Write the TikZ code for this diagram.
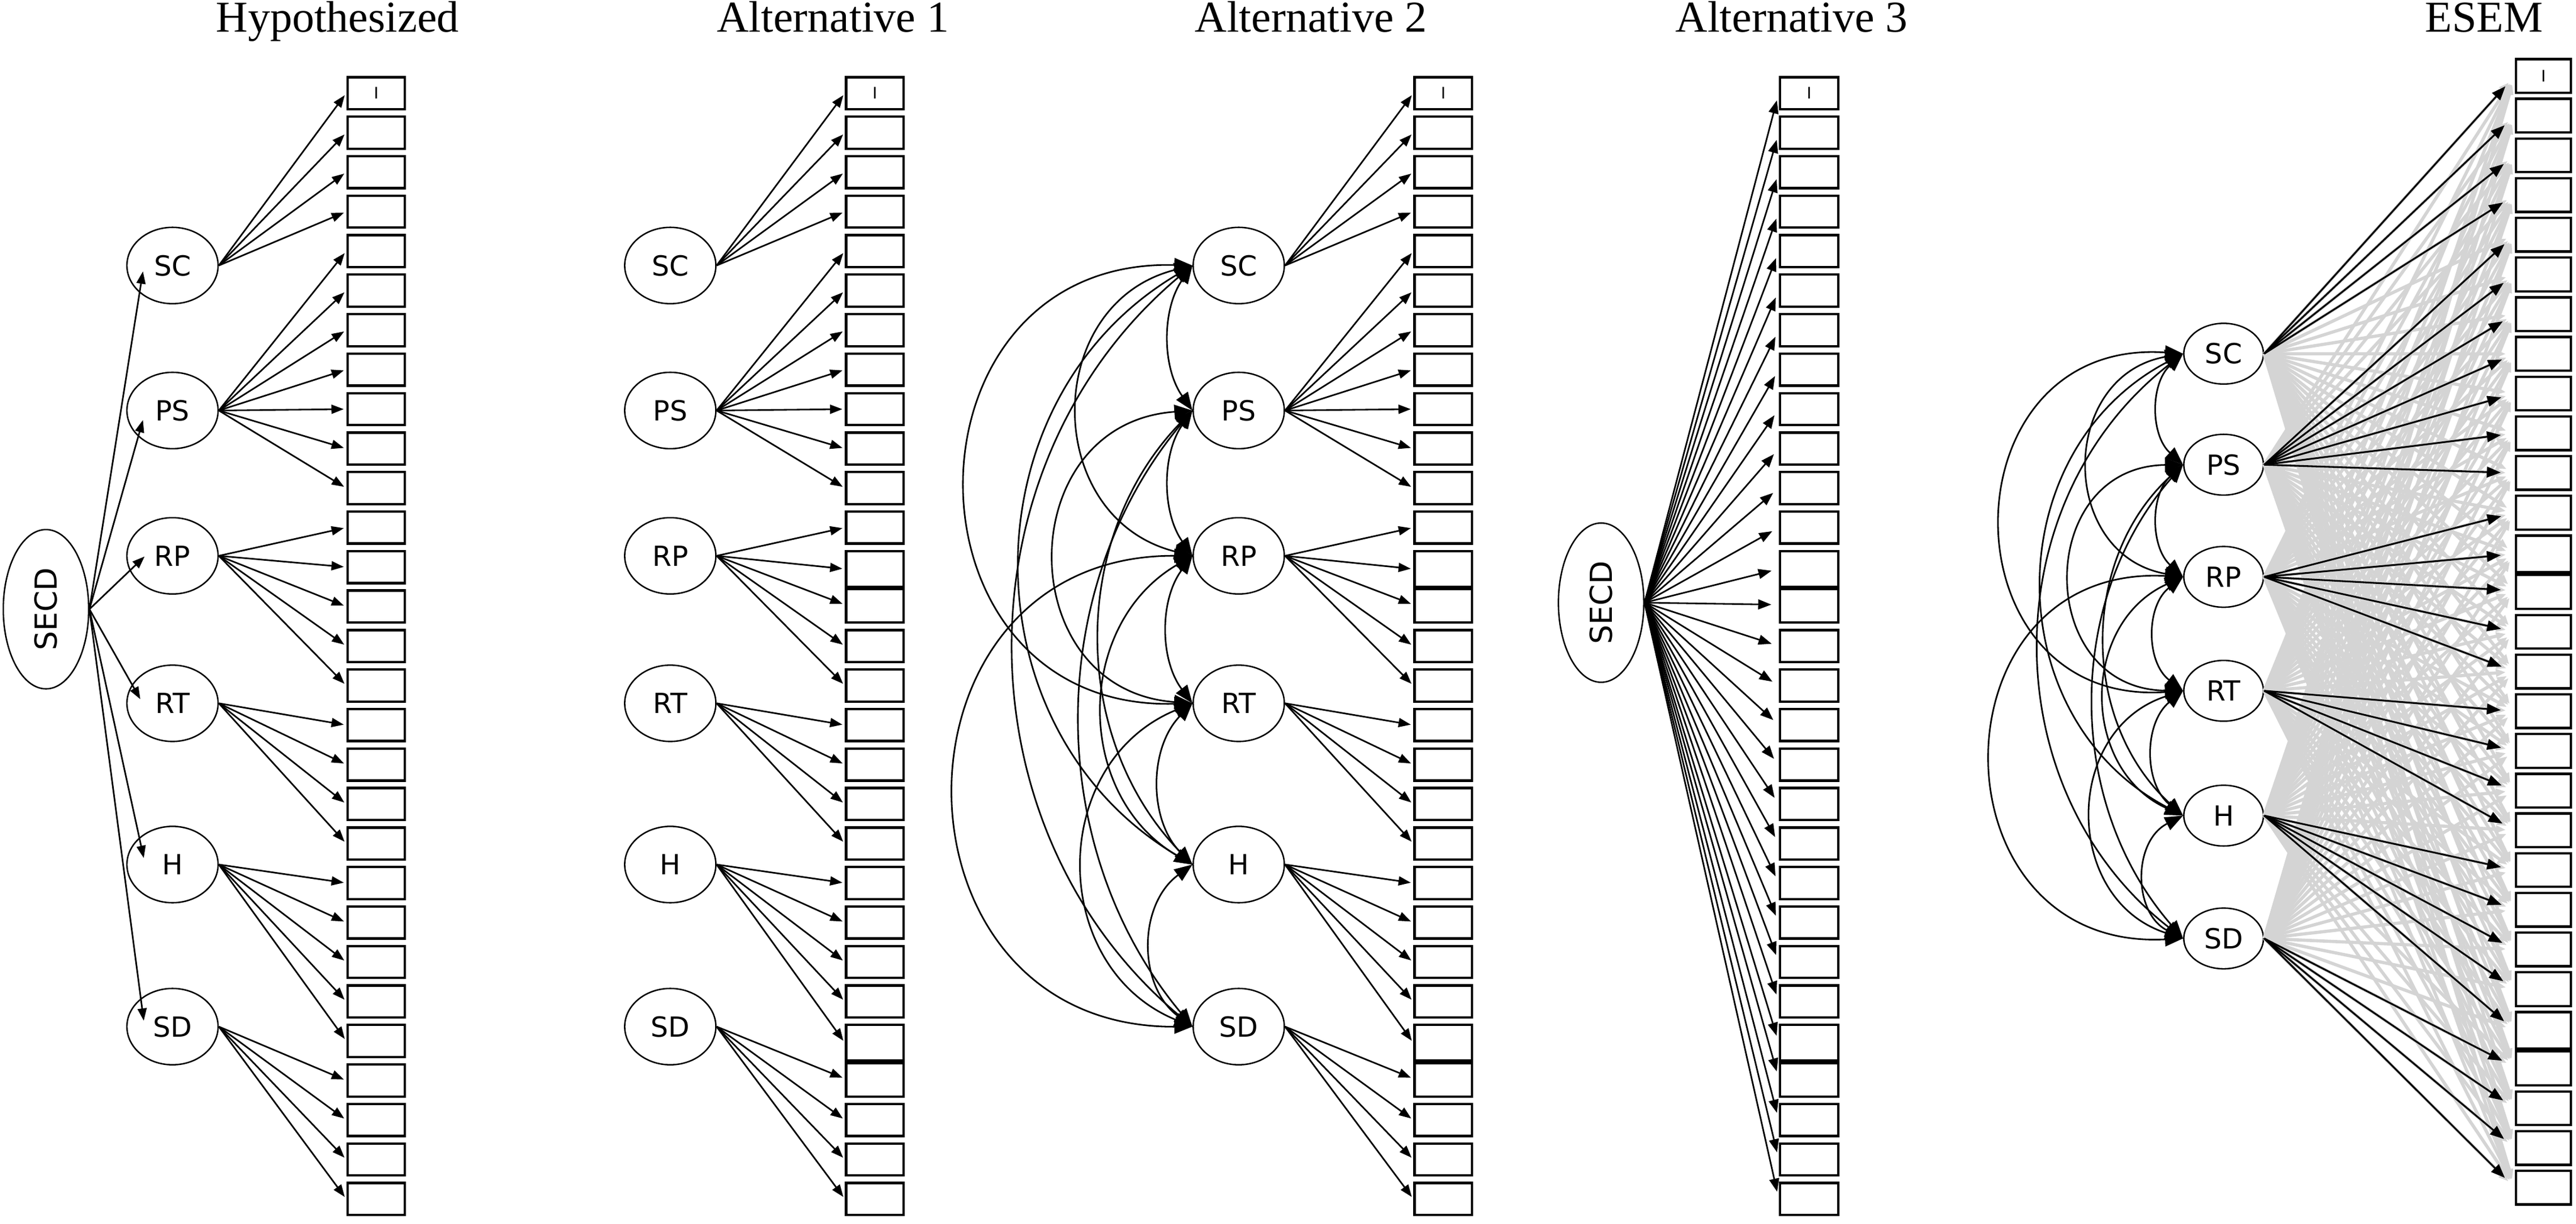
\documentclass[tikz,border=0pt]{standalone}
\usepackage{graphicx}
\usepackage{fontspec}
\setmainfont{Liberation Serif}
\newfontfamily\lblfont{DejaVu Sans}
\usetikzlibrary{shapes.geometric,arrows.meta,calc}

\def\cfy{{161.7,250,338.5,428.3,526.5,625.2}}
\def\efy{{215.4,283,351.3,420.7,496.7,571.5}}

% column of 29 indicator boxes
\newcommand\boxcol[7]{%
 \foreach \i in {1,...,29}{%
   \pgfmathsetmacro\bt{#3+(\i-1)*#4}%
   \pgfmathsetmacro\bb{\bt+#5}%
   \ifnum#6=1
     \ifnum\i=13 \pgfmathsetmacro\bb{\bt+(#4+#5)/2}\fi
     \ifnum\i=25 \pgfmathsetmacro\bb{\bt+(#4+#5)/2}\fi
     \ifnum\i=14 \pgfmathsetmacro\bt{\bt-(#4-#5)/2}\fi
     \ifnum\i=26 \pgfmathsetmacro\bt{\bt-(#4-#5)/2}\fi
   \fi
   \pgfmathsetmacro\bc{(\bt+\bb)/2}%
   \pgfmathsetmacro\bh{(\bb-\bt)*0.2}%
   \node[ind,minimum width=#7mm,minimum height=\bh mm] (#1-b\i) at (#2,\bc) {\ifnum\i=1 I\fi};
 }%
 \ifnum#6=1
   \draw[line width=1.6pt] (#1-b13.south west) -- (#1-b13.south east);
   \draw[line width=1.6pt] (#1-b25.south west) -- (#1-b25.south east);
 \fi
}

% factor -> indicator loadings
\newcommand\loadings[2]{%
 \foreach \f/\a/\b in {1/1/4,2/5/11,3/12/16,4/17/20,5/21/25,6/26/29}{%
   \foreach \i in {\a,...,\b}{\draw[#2] (#1-f\f.east) -- (#1-b\i.west);}}}

% covariance arc between factor i and j with sagitta s
\newcommand\covarc[5]{%
  \pgfmathtruncatemacro\cvi{#2-1}%
  \pgfmathtruncatemacro\cvj{#3-1}%
  \pgfmathsetmacro\cvya{#5[\cvi]}%
  \pgfmathsetmacro\cvyb{#5[\cvj]}%
  \pgfmathsetmacro\cvL{\cvyb-\cvya}%
  \pgfmathsetmacro\cvt{2*#4/\cvL}%
  \pgfmathsetmacro\cvphi{2*atan(\cvt)}%
  \pgfmathsetmacro\cvk{\cvL/3+4*#4*(#4/\cvL)/3}%
  \pgfmathsetmacro\cvcm{-\cvk*sin(\cvphi)}%
  \pgfmathsetmacro\cve{\cvk*cos(\cvphi)}%
  \pgfmathsetmacro\cvem{-\cvk*cos(\cvphi)}%
  \draw[cov] (#1-f#2.west) .. controls +(\cvcm,\cve) and +(\cvcm,\cvem) .. (#1-f#3.west);
}
\newcommand\covarcs[3]{\foreach \ci/\cj/\cs in {#3}{\covarc{#1}{\ci}{\cj}{\cs}{#2}}}

\begin{document}
\begin{tikzpicture}[x=0.2mm,y=-0.2mm,
  lat/.style={ellipse,draw,line width=0.5pt,minimum width=11.1mm,minimum height=9.3mm,inner sep=0pt,
    font=\lblfont\fontsize{9.6}{10}\selectfont},
  elat/.style={lat,minimum width=9.7mm,minimum height=7.4mm},
  gen/.style={ellipse,draw,line width=0.5pt,minimum width=10.4mm,minimum height=19.4mm,inner sep=0pt,
    font=\lblfont\fontsize{10.5}{11}\selectfont},
  ind/.style={rectangle,draw,line width=0.85pt,inner sep=0pt,font=\lblfont\fontsize{5.5}{6}\selectfont},
  ttl/.style={anchor=base,font=\fontsize{15.3}{17}\selectfont},
  load/.style={line width=0.55pt,-{Triangle[length=1.5mm,width=1.1mm]},shorten >=0.3mm},
  gload/.style={line width=0.55pt,-{Triangle[length=1.5mm,width=1.1mm]}},
  aload/.style={line width=0.55pt,-{Triangle[length=1.6mm,width=1.2mm]},shorten >=0.9mm},
  eload/.style={line width=0.6pt,-{Triangle[length=1.7mm,width=1.3mm]},shorten >=1.7mm},
  cross/.style={draw=black!17,line width=1.1pt,-{Triangle[length=1.2mm,width=0.9mm]},shorten >=1.1mm},
  cov/.style={line width=0.55pt,{Triangle[length=2.2mm,width=1.7mm]}-{Triangle[length=2.2mm,width=1.7mm]}},
]
\fill[white] (0,0) rectangle (1568,745.4);
\useasboundingbox (0,0) rectangle (1568,745.4);

% titles
\node[ttl] (t1) at (205.5,19.5) {Hypothesized};
\node[ttl] (t2) at (507,19.5) {Alternative 1};
\node[ttl] (t3) at (798,19.5) {Alternative 2};
\node[ttl] (t4) at (1090.5,19.5) {Alternative 3};
\node[ttl] (t5) at (1512,19.5) {ESEM};

% latent factors
\foreach \f/\nm/\y in {1/SC/161.7,2/PS/250,3/RP/338.5,4/RT/428.3,5/H/526.5,6/SD/625.2}{
  \node[lat] (h-f\f) at (105,\y) {\nm};
  \node[lat] (a1-f\f) at (408,\y) {\nm};
  \node[lat] (a2-f\f) at (754,\y) {\nm};
}
\foreach \f/\nm/\y in {1/SC/215.4,2/PS/283,3/RP/351.3,4/RT/420.7,5/H/496.7,6/SD/571.5}{
  \node[elat] (e-f\f) at (1353.5,\y) {\nm};
}
\node[gen] (h-g) at (28,371) {\rotatebox{90}{SECD}};
\node[gen] (a3-g) at (974.6,367) {\rotatebox{90}{SECD}};

% indicator boxes
\boxcol{h}{229}{47}{24.05}{19.5}{0}{7}
\boxcol{a1}{532.5}{47}{24.05}{19.5}{1}{7}
\boxcol{a2}{878.5}{47}{24.05}{19.5}{1}{7}
\boxcol{a3}{1101.2}{47}{24.05}{19.5}{1}{7.1}
\boxcol{e}{1548.2}{36}{24.18}{20.5}{1}{6.7}

% Hypothesized: second-order loadings
\draw[gload] (h-g.east) -- ($(h-f1.center)+(-18,3.6)$);
\draw[gload] (h-g.east) -- ($(h-f2.center)+(-18,5.8)$);
\draw[gload] (h-g.east) -- ($(h-f3.center)+(-17,0.4)$);
\draw[gload] (h-g.east) -- ($(h-f4.center)+(-19.6,-2.5)$);
\draw[gload] (h-g.east) -- ($(h-f5.center)+(-17.5,-4)$);
\draw[gload] (h-g.east) -- ($(h-f6.center)+(-17.5,-3.6)$);

% first-order loadings
\loadings{h}{load}
\loadings{a1}{load}
\loadings{a2}{load}

% Alternative 3: single factor
\foreach \i in {1,...,29}{\draw[aload] (a3-g.east) -- (a3-b\i.west);}

% ESEM: cross-loadings (grey) and target loadings (black)
\foreach \f in {1,...,6}{\foreach \i in {1,...,29}{\draw[cross] (e-f\f.east) -- (e-b\i.west);}}
\loadings{e}{eload}

% factor covariances
\covarcs{a2}{\cfy}{1/2/14,2/3/14,3/4/15,4/5/20,5/6/25,1/3/69,2/4/83,3/5/54,4/6/66,1/4/137,2/5/56,3/6/144,1/5/104,2/6/68,1/6/108}
\covarcs{e}{\efy}{1/2/15,2/3/15,3/4/17,4/5/18,5/6/23,1/3/57,2/4/68,3/5/47,4/6/55,1/4/110,2/5/47,3/6/116,1/5/85,2/6/54,1/6/87}
\end{tikzpicture}
\end{document}
